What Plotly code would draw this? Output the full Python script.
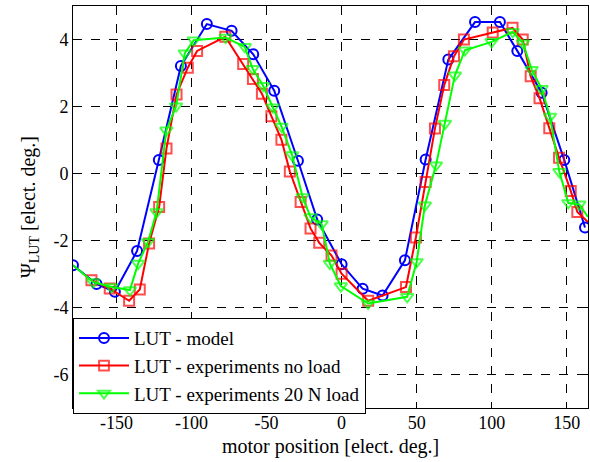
import plotly.graph_objects as go

# ---- data ----
model_x = [-179, -163.3, -151.1, -136.3, -121.8, -107.1, -89.8, -73.3, -58.9, -44.9, -29.1, -16.3,
           0, 14, 27.3, 42.2, 56, 71.1, 88.9, 105.5, 117.1, 133.3, 148.4, 162.2]
model_y = [-2.74, -3.30, -3.53, -2.31, 0.40, 3.21, 4.46, 4.26, 3.56, 2.47, 0.38, -1.37,
           -2.71, -3.44, -3.64, -2.59, 0.42, 3.40, 4.52, 4.52, 3.66, 2.41, 0.40, -1.61]

noload_x = [-166.7, -154.5, -141.6, -134.5, -128.3, -121.6, -116.7, -110, -102.5, -96.3, -77.5,
            -65.6, -59.1, -53.1, -46.8, -40.1, -34.5, -27.3, -20.7, -14.9, -6.7, 0, 17.7, 42.9,
            49.5, 56, 62.2, 68.4, 74.9, 81.5, 100.7, 113.9, 120.7, 126, 131.9, 138.4, 144.9,
            152.7, 157.1, 164.2]
noload_y = [-3.19, -3.43, -3.80, -3.46, -2.09, -1.00, 0.75, 2.36, 3.16, 3.66, 4.08,
            3.27, 2.82, 2.38, 1.71, 1.01, 0.06, -0.85, -1.64, -2.07, -2.45, -2.99, -3.80, -3.39,
            -1.91, -0.25, 1.34, 2.64, 3.50, 4.00, 4.21, 4.35, 4.00, 2.90, 2.25, 1.35, 0.47,
            -0.52, -1.15, -1.45]

load_x = [-179, -165.6, -153.3, -141.1, -135.6, -129, -123.3, -116.8, -110.3, -104.5, -98.5, -77.3,
          -64.5, -59.3, -52.3, -45.8, -40, -33, -26, -20.7, -13.3, -7.8, -0.5, 17.7, 43.7,
          50, 55.5, 62.9, 68.9, 75.5, 82.2, 100, 114, 120.9, 126.7, 133.3, 138.9, 145.1,
          151.1, 158.4, 164.2]
load_y = [-2.74, -3.24, -3.39, -3.48, -2.69, -2.04, -1.15, 1.29, 2.01, 3.59, 3.98, 4.06,
          3.78, 3.13, 2.62, 1.98, 1.40, 0.55, -0.70, -1.30, -1.51, -2.69, -3.36, -3.88, -3.68,
          -2.64, -0.95, 0.25, 1.49, 2.93, 3.68, 3.93, 4.23, 3.89, 3.10, 2.53, 1.70, 0.05,
          -0.88, -0.92, -1.30]

names = ["LUT - model", "LUT - experiments no load", "LUT - experiments 20 N load"]
x_ticks = [-150, -100, -50, 0, 50, 100, 150]
y_ticks = [-6, -4, -2, 0, 2, 4]
x_title = "motor position [elect. deg.]"
y_title = "Ψ<sub>LUT</sub> [elect. deg.]"

FONT = "Times New Roman, Liberation Serif, serif"

noload_sizes = [10] * (len(noload_x) - 1) + [0]
load_sizes = [0] + [11] * (len(load_x) - 2) + [0]

fig = go.Figure()
fig.add_trace(go.Scatter(x=model_x, y=model_y, name=names[0], mode="lines+markers",
                         line=dict(color="#0000FF", width=2),
                         marker=dict(symbol="circle-open", size=10, color="#0000FF",
                                     line=dict(width=2, color="#0000FF"))))
fig.add_trace(go.Scatter(x=noload_x, y=noload_y, name=names[1], mode="lines+markers",
                         line=dict(color="#FF0000", width=2),
                         marker=dict(symbol="square-open", size=noload_sizes, color="#FF0000",
                                     line=dict(width=2, color="#FF0000"))))
fig.add_trace(go.Scatter(x=load_x, y=load_y, name=names[2], mode="lines+markers",
                         line=dict(color="#00FF00", width=2),
                         marker=dict(symbol="triangle-down-open", size=load_sizes, color="#00FF00",
                                     line=dict(width=2, color="#00FF00"))))

axis_common = dict(showline=True, linecolor="black", linewidth=1, mirror="ticks",
                   ticks="inside", ticklen=5, tickcolor="black",
                   showgrid=True, gridcolor="black", griddash="dash", gridwidth=1,
                   zeroline=False, tickfont=dict(family=FONT, size=18, color="black"))

fig.update_xaxes(range=[-179, 164.2], tickvals=x_ticks, ticklabelstandoff=-2,
                 ticktext=[str(v) if v >= 0 else "-" + str(-v) for v in x_ticks],
                 **axis_common)
fig.update_yaxes(range=[-7, 5], tickvals=y_ticks,
                 ticktext=[str(v) if v >= 0 else "-" + str(-v) for v in y_ticks],
                 title=dict(text=y_title,
                            font=dict(family=FONT, size=20, color="black"), standoff=12),
                 **axis_common)

fig.add_annotation(text=x_title, xref="paper", yref="paper", x=0.5, y=-0.095,
                   xanchor="center", yanchor="middle", showarrow=False,
                   font=dict(family=FONT, size=20, color="black"))

fig.update_layout(
    width=590, height=462,
    margin=dict(l=73, r=2, t=6, b=54),
    paper_bgcolor="white", plot_bgcolor="white",
    showlegend=True,
    legend=dict(x=0, y=0.2237, xanchor="left", yanchor="top",
                bgcolor="white", bordercolor="black", borderwidth=1,
                font=dict(family=FONT, size=19, color="black"),
                tracegroupgap=0, itemwidth=50),
    font=dict(family=FONT, color="black"),
)

fig.write_html("out.html", config={"displayModeBar": False},
               post_script="document.body.style.margin='0';")
